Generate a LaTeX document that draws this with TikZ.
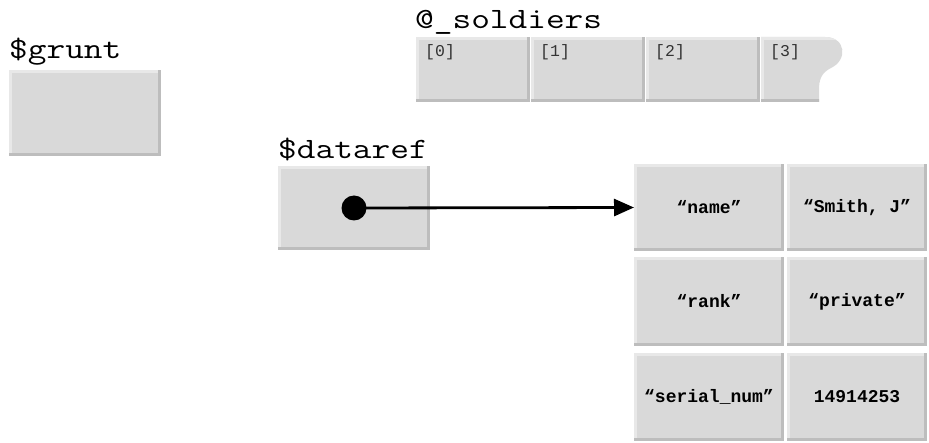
\documentclass[tikz,border=0pt]{standalone}
\usepackage{fontspec}
\newfontfamily\varfont[FakeStretch=1.23]{Latin Modern Mono}
\newfontfamily\idxfont{Liberation Mono}
\newfontfamily\hashfont{Liberation Mono}
\usetikzlibrary{arrows.meta}
\definecolor{cellgray}{HTML}{D9D9D9}
\definecolor{cellhi}{HTML}{E8E8E8}
\definecolor{cellshade}{HTML}{BDBDBD}
\definecolor{idxtext}{HTML}{333333}

\tikzset{
  bevel/.style={rectangle, inner sep=0pt, outer sep=0pt, fill=cellgray, anchor=north west,
    path picture={
      \fill[cellhi] (path picture bounding box.north west) rectangle ([yshift=-3pt]path picture bounding box.north east);
      \fill[cellhi] (path picture bounding box.north west) rectangle ([xshift=3pt]path picture bounding box.south west);
      \fill[cellshade] ([yshift=3pt]path picture bounding box.south west) rectangle (path picture bounding box.south east);
      \fill[cellshade] ([xshift=-3pt]path picture bounding box.north east) rectangle (path picture bounding box.south east);
    }},
  varname/.style={anchor=base west, inner sep=0pt, font=\varfont\fontsize{29.5}{29.5}\selectfont},
  idx/.style={anchor=base west, inner sep=0pt, text=idxtext, font=\idxfont\fontsize{16.5}{16.5}\selectfont},
  hashcell/.style={bevel, font=\hashfont\bfseries\fontsize{18}{18}\selectfont},
  colone/.style={hashcell, minimum width=150pt},
  coltwo/.style={hashcell, minimum width=140pt},
}

\begin{document}
\begin{tikzpicture}[x=1pt, y=-1pt]
\useasboundingbox (0,0) rectangle (929,443);

% scalar $grunt
\node[varname] (gruntlbl) at (9,59) {\$grunt};
\node[bevel, minimum width=152pt, minimum height=86pt] (grunt) at (9,70) {};

% array @_soldiers
\node[varname] (soldlbl) at (415,29) {@\_soldiers};
\node[bevel, minimum width=114pt, minimum height=65pt] (s0) at (416,37) {};
\node[bevel, minimum width=114pt, minimum height=65pt] (s1) at (531,37) {};
\node[bevel, minimum width=114pt, minimum height=65pt] (s2) at (646,37) {};
% last slot with a torn right edge
\def\tornslot{(761,37) -- (825,37) .. controls (846,37) and (848,60) .. (831,68)
  .. controls (821,73) and (819,80) .. (819,90) -- (819,102) -- (761,102) -- cycle}
\fill[cellgray] \tornslot;
\begin{scope}
  \clip \tornslot;
  \fill[cellhi] (761,37) rectangle (850,40);
  \fill[cellhi] (761,37) rectangle (764,102);
  \fill[cellshade] (761,99) rectangle (850,102);
\end{scope}
\node[idx] (i0) at (425,57) {[0]};
\node[idx] (i1) at (540,57) {[1]};
\node[idx] (i2) at (655,57) {[2]};
\node[idx] (i3) at (770,57) {[3]};

% reference $dataref
\node[varname] (dreflbl) at (278,159) {\$dataref};
\node[bevel, minimum width=152pt, minimum height=84pt] (dref) at (278,166) {};

% anonymous hash
\node[colone, minimum height=87pt] (k1) at (634,164) {“name”};
\node[coltwo, minimum height=87pt] (v1) at (787,164) {“Smith, J”};
\node[colone, minimum height=89pt] (k2) at (634,257) {“rank”};
\node[coltwo, minimum height=89pt] (v2) at (787,257) {“private”};
\node[colone, minimum height=88pt] (k3) at (634,353) {“serial\_num”};
\node[coltwo, minimum height=88pt] (v3) at (787,353) {14914253};

% pointer
\node[circle, fill=black, inner sep=0pt, minimum size=25pt] (dot) at (dref.center) {};
\draw[line width=2.8pt, -{Triangle[length=20pt, width=17pt]}] (dot.center) -- (k1.west);
\end{tikzpicture}
\end{document}
